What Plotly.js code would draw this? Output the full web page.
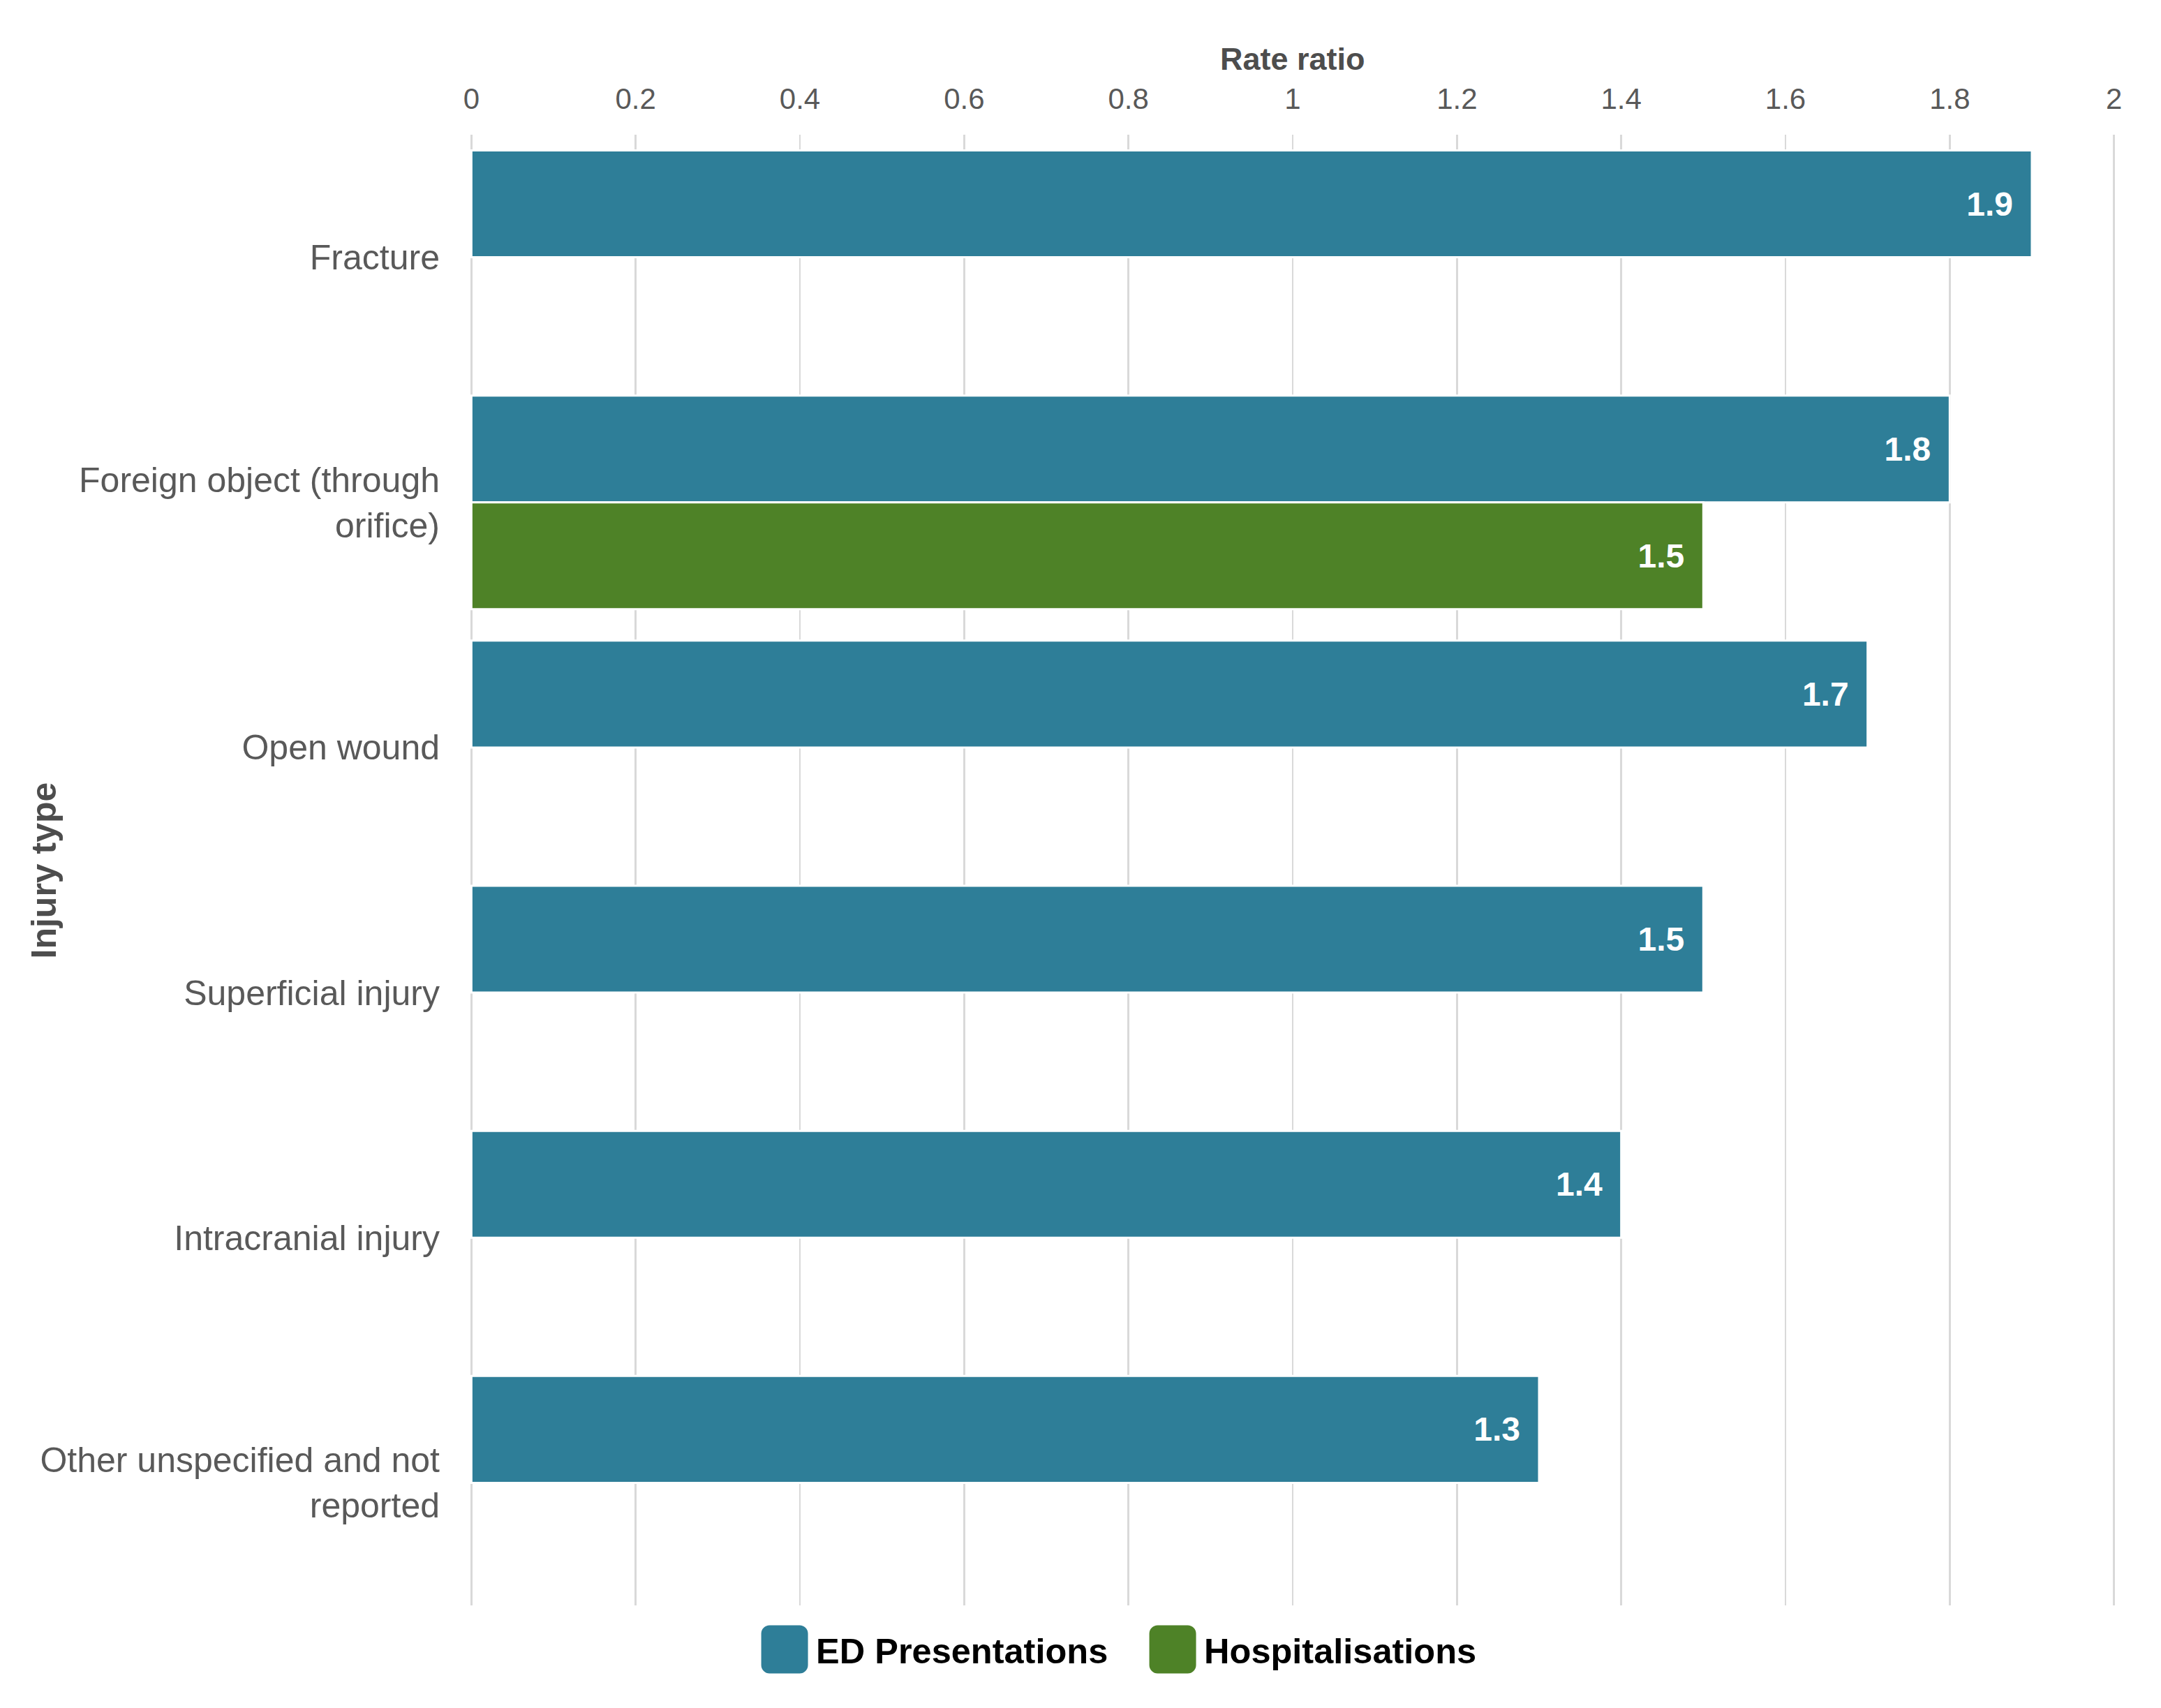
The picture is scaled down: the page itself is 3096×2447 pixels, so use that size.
<!DOCTYPE html>
<html>
<head>
<meta charset="utf-8">
<script src="https://cdn.plot.ly/plotly-3.0.1.min.js"></script>
<style>
  html, body { margin: 0; padding: 0; background: #ffffff; }
  #chart { width: 3096px; height: 2447px; }
</style>
</head>
<body>
<div id="chart"></div>
<script>
// Injury types, top to bottom
const categories = [
  'Fracture',
  'Foreign object (through<br>orifice)',
  'Open wound',
  'Superficial injury',
  'Intracranial injury',
  'Other unspecified and not<br>reported'
];

// Rate ratios by setting
const edPresentations = [1.9, 1.8, 1.7, 1.5, 1.4, 1.3];
const hospitalisations = [null, 1.5, null, null, null, null];

const seriesNames = ['ED Presentations', 'Hospitalisations'];
const seriesColors = ['#2e7e98', '#4e8227'];

const xTickValues = [0, 0.2, 0.4, 0.6, 0.8, 1, 1.2, 1.4, 1.6, 1.8, 2];

const FONT = 'Liberation Sans, Arial, Helvetica, sans-serif';
const GRID = '#d9d9d9';

function barTrace(name, values, color) {
  return {
    type: 'bar',
    orientation: 'h',
    name: name,
    y: categories,
    x: values,
    marker: { color: color, line: { color: '#ffffff', width: 3 } },
    texttemplate: '%{x:.1f}\u2002',
    textposition: 'inside',
    insidetextanchor: 'end',
    constraintext: 'none',
    insidetextfont: { family: FONT, size: 48, color: '#ffffff', weight: 'bold' },
    hoverinfo: 'skip'
  };
}

const data = [
  barTrace(seriesNames[0], edPresentations, seriesColors[0]),
  barTrace(seriesNames[1], hospitalisations, seriesColors[1])
];

const layout = {
  width: 3096,
  height: 2447,
  paper_bgcolor: '#ffffff',
  plot_bgcolor: '#ffffff',
  font: { family: FONT, color: '#595959' },
  margin: { l: 673, r: 65, t: 193, b: 147, pad: 0 },
  barmode: 'group',
  bargap: 0.128,
  bargroupgap: 0.0,
  showlegend: true,
  legend: {
    orientation: 'h',
    x: 0.408,
    xanchor: 'center',
    y: -0.03,
    yanchor: 'middle',
    itemwidth: 80,
    entrywidth: 461,
    entrywidthmode: 'pixels',
    font: { family: FONT, size: 50.5, color: '#000000', weight: 'bold' },
    bgcolor: 'rgba(0,0,0,0)'
  },
  xaxis: {
    side: 'top',
    range: [-0.002, 2.002],
    tickmode: 'array',
    tickvals: xTickValues,
    ticktext: xTickValues.map(String),
    showgrid: true,
    gridcolor: GRID,
    gridwidth: 2.5,
    zeroline: true,
    zerolinecolor: GRID,
    zerolinewidth: 2.5,
    showline: false,
    ticks: '',
    ticklabelstandoff: 28,
    tickfont: { family: FONT, size: 42, color: '#595959' },
    automargin: false,
    fixedrange: true
  },
  yaxis: {
    type: 'category',
    autorange: 'reversed',
    showgrid: false,
    zeroline: false,
    showline: false,
    ticks: '',
    ticklabelstandoff: 42,
    tickfont: { family: FONT, size: 50, color: '#595959' },
    automargin: false,
    fixedrange: true
  },
  annotations: [
    {
      text: 'Rate ratio',
      xref: 'paper', yref: 'paper',
      x: 0.5, y: 1.0513,
      xanchor: 'center', yanchor: 'middle',
      showarrow: false,
      font: { family: FONT, size: 45, color: '#4d4d4d', weight: 'bold' }
    },
    {
      text: 'Injury type',
      xref: 'paper', yref: 'paper',
      x: -0.2587, y: 0.5,
      xanchor: 'center', yanchor: 'middle',
      textangle: -90,
      showarrow: false,
      font: { family: FONT, size: 50, color: '#4d4d4d', weight: 'bold' }
    }
  ]
};

// Rounded-rectangle legend swatch, centred on the symbol origin
function roundedRect(w, h, r) {
  const x0 = -w / 2, x1 = w / 2, y0 = -h / 2, y1 = h / 2;
  return 'M' + (x0 + r) + ',' + y0 +
    'H' + (x1 - r) + 'A' + r + ',' + r + ' 0 0 1 ' + x1 + ',' + (y0 + r) +
    'V' + (y1 - r) + 'A' + r + ',' + r + ' 0 0 1 ' + (x1 - r) + ',' + y1 +
    'H' + (x0 + r) + 'A' + r + ',' + r + ' 0 0 1 ' + x0 + ',' + (y1 - r) +
    'V' + (y0 + r) + 'A' + r + ',' + r + ' 0 0 1 ' + (x0 + r) + ',' + y0 + 'Z';
}

Plotly.newPlot('chart', data, layout, { staticPlot: true, displayModeBar: false })
  .then(function (gd) {
    gd.querySelectorAll('.legend .legendpoints path').forEach(function (p) {
      p.setAttribute('d', roundedRect(67, 69, 12));
      p.style.strokeWidth = '0px';
    });
  });
</script>
</body>
</html>
